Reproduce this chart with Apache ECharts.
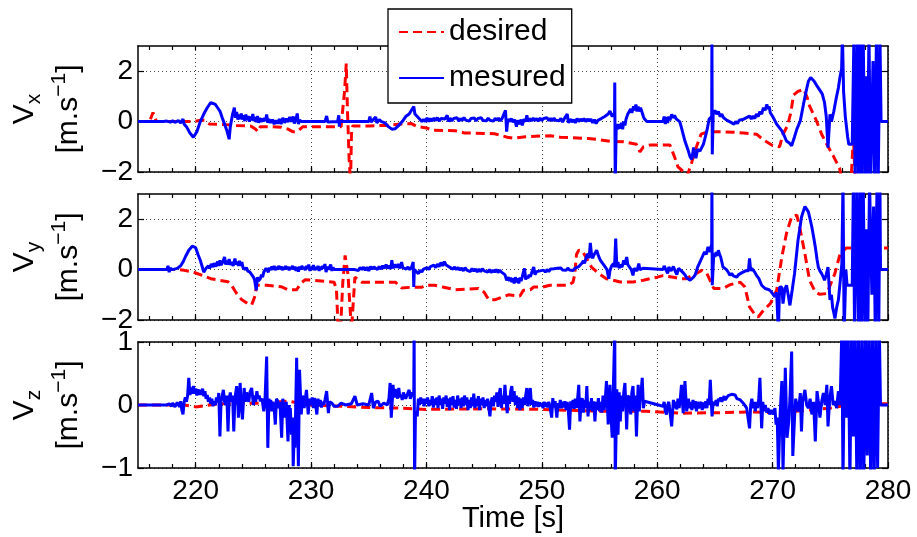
<!DOCTYPE html>
<html>
<head>
<meta charset="utf-8">
<script src="https://cdn.jsdelivr.net/npm/echarts@6/dist/echarts.min.js"></script>
<style>
html,body{margin:0;padding:0;background:#fff;}
#chart{width:917px;height:537px;}
</style>
</head>
<body>
<div id="chart"></div>
<script>
// ---------- DATA ----------
const xMin = 215, xMax = 280;
const majorXTicks = [220, 230, 240, 250, 260, 270, 280];
const evenXTicks = [216, 218, 220, 222, 224, 226, 228, 230, 232, 234, 236, 238, 240, 242, 244, 246, 248, 250,
  252, 254, 256, 258, 260, 262, 264, 266, 268, 270, 272, 274, 276, 278];
const yRanges = [[-2, 3], [-2, 3], [-1, 1]];
const yTicks = [[-2, 0, 2], [-2, 0, 2], [-1, 0, 1]];
const yNames = ['x', 'y', 'z'];
const legendNames = ['desired', 'mesured'];
const xTitle = 'Time [s]';

const vxDesired = [[215,0],[216.0,0],[216.3,0.36],[216.6,0],[219.8,0],[220.4,0.05],[220.8,0.05],[221.2,-0.1],[222.5,-0.12],[223.5,-0.15],[224.8,-0.18],[225.2,-0.3],[225.4,-0.4],[225.6,-0.2],[226.2,-0.2],[227.4,-0.22],[228.0,-0.3],[228.4,-0.4],[228.8,-0.4],[229.3,-0.2],[231,-0.2],[232.6,-0.2],[232.9,1.2],[233.05,2.3],[233.15,0.5],[233.3,-1.5],[233.42,-2.4],[233.5,-0.5],[233.6,-0.17],[235,-0.17],[236.5,-0.15],[237.6,-0.1],[238.7,-0.08],[239.2,-0.2],[240,-0.25],[240.5,-0.34],[242.5,-0.36],[243.3,-0.45],[245.9,-0.48],[247,-0.62],[247.6,-0.66],[248.6,-0.6],[250.7,-0.56],[251.6,-0.62],[254,-0.67],[255,-0.72],[255.9,-0.78],[257.1,-0.8],[258.2,-0.9],[258.5,-1.2],[258.8,-1.0],[259.4,-0.93],[261.1,-0.93],[261.5,-1.4],[261.8,-1.8],[262.3,-2.0],[262.6,-2.15],[263.0,-1.6],[263.4,-1.0],[263.8,-0.5],[264.3,-0.42],[265.1,-0.4],[266.6,-0.42],[267.5,-0.45],[268.6,-0.5],[269.2,-0.72],[270.0,-0.95],[270.6,-1.0],[270.9,-0.5],[271.3,-0.15],[271.6,0.4],[271.8,1.05],[272.2,1.2],[272.7,1.28],[273.0,0.95],[273.2,0.62],[273.8,0.03],[274.25,-0.5],[274.7,-0.9],[275.3,-1.4],[275.8,-1.85],[276.0,-2.3],[276.8,-2.3],[277.0,-0.6],[277.15,-2.3],[277.9,-2.3],[278.1,-1.2],[278.3,-2.3],[280,-2.3]];

const vxMeasured = [[215,0],[217.2,0],[217.5,0.02],[217.8,-0.02],[218.0,0.03],[218.2,-0.03],[218.5,0.04],[218.7,-0.05],[218.9,0.1],[219.0,-0.1],[219.2,-0.2],[219.5,-0.45],[219.8,-0.62],[220.1,-0.4],[220.4,0],[220.7,0.3],[221.0,0.55],[221.3,0.75],[221.5,0.72],[221.7,0.68],[221.9,0.55],[222.1,0.42],[222.3,0.15],[222.5,-0.1],[222.7,-0.35],[222.9,-0.7],[223.0,-0.2],[223.2,0.3],[223.35,0.55],[223.45,0.15],[223.55,0.38],[223.65,0.08],[223.75,0.28],[223.85,0.1],[223.95,0.32],[224.05,0.08],[224.15,0.25],[224.25,0.02],[224.35,0.28],[224.45,0.06],[224.55,0.22],[224.65,0.0],[224.75,0.2],[224.85,0.05],[224.95,0.3],[225.05,0.02],[225.15,0.18],[225.25,-0.02],[225.35,0.22],[225.45,-0.05],[225.55,0.15],[225.65,-0.02],[225.75,0.12],[225.85,0.0],[225.95,0.15],[226.05,0.02],[226.15,0.28],[226.25,-0.05],[226.35,0.1],[226.5,-0.05],[226.65,0.08],[226.8,-0.1],[226.95,0.05],[227.1,-0.08],[227.25,0.1],[227.4,-0.1],[227.55,0.15],[227.7,-0.05],[227.85,0.12],[228.0,-0.02],[228.15,0.18],[228.3,0.0],[228.45,0.2],[228.55,-0.08],[228.7,0.12],[228.8,0.32],[228.9,-0.1],[229.0,0.05],[229.2,0],[231.2,0],[231.35,0.22],[231.45,-0.02],[231.6,0],[232.3,0],[232.4,0.25],[232.45,-0.2],[232.5,0],[235.0,0],[235.1,0.2],[235.2,-0.02],[235.4,0.08],[235.6,0.18],[235.7,-0.05],[235.9,0.08],[236.1,0],[236.4,-0.05],[236.7,-0.2],[237.0,-0.3],[237.3,-0.28],[237.6,-0.15],[237.9,0.0],[238.2,0.2],[238.5,0.3],[238.7,0.45],[238.9,0.6],[239.0,0.3],[239.2,0.2],[239.4,0.1],[239.6,0.0],[239.75,0.08],[239.9,0.0],[240.05,0.15],[240.2,0.0],[240.35,0.12],[240.5,0.02],[240.65,0.14],[240.8,0.04],[240.95,0.16],[241.1,0.02],[241.25,0.12],[241.4,0.05],[241.6,0.1],[241.8,0.25],[241.9,0.0],[242.05,0.14],[242.2,0.03],[242.35,0.12],[242.5,0.05],[242.65,0.15],[242.8,0.02],[242.95,0.12],[243.1,0.04],[243.25,0.16],[243.4,0.06],[243.55,0.13],[243.7,0.02],[243.85,0.12],[244.0,0.05],[244.15,0.14],[244.3,0.03],[244.45,0.12],[244.6,0.06],[244.75,0.15],[244.9,0.04],[245.05,0.11],[245.2,0.03],[245.35,0.14],[245.5,0.05],[245.65,0.12],[245.8,0.02],[245.95,0.13],[246.1,0.05],[246.25,0.14],[246.4,0.03],[246.55,0.12],[246.7,0.06],[246.85,0.45],[246.95,-0.4],[247.05,0.1],[247.2,0.0],[247.35,0.12],[247.5,-0.02],[247.65,0.08],[247.8,-0.2],[247.9,0.05],[248.05,-0.1],[248.2,0.08],[248.3,-0.15],[248.45,0.1],[248.6,0.0],[248.7,0.25],[248.8,0.0],[248.95,0.12],[249.1,0.03],[249.25,0.14],[249.4,0.04],[249.55,0.12],[249.7,0.02],[249.85,0.14],[250.0,0.04],[250.15,0.12],[250.3,0.05],[250.45,0.15],[250.6,0.04],[250.75,0.13],[250.9,0.03],[251.05,0.14],[251.2,0.05],[251.35,0.12],[251.5,0.03],[251.65,0.13],[251.8,-0.02],[251.95,0.12],[252.1,0.05],[252.2,0.3],[252.3,-0.05],[252.45,0.1],[252.6,-0.02],[252.75,0.08],[252.9,-0.05],[253.05,0.12],[253.2,0.0],[253.35,0.1],[253.5,0.02],[253.65,0.12],[253.8,0.0],[253.95,0.1],[254.1,0.02],[254.25,0.1],[254.4,-0.05],[254.55,0.08],[254.7,-0.08],[254.85,0.05],[255.0,0.0],[255.15,0.12],[255.3,0.08],[255.45,0.2],[255.6,0.15],[255.75,0.3],[255.9,0.42],[256.1,0.2],[256.3,0.35],[256.32,1.55],[256.36,-2.5],[256.45,-0.1],[256.6,-0.3],[256.7,-0.1],[256.8,-0.28],[256.9,-0.05],[257.0,-0.3],[257.1,0.0],[257.2,-0.15],[257.3,0.1],[257.45,0.3],[257.6,0.25],[257.7,0.5],[257.8,0.35],[257.95,0.6],[258.05,0.45],[258.15,0.68],[258.25,0.4],[258.35,0.6],[258.45,0.4],[258.55,0.55],[258.65,0.42],[258.8,0.2],[258.9,0.1],[259.1,0],[260.5,0],[260.6,0.2],[260.7,-0.1],[260.8,0.18],[260.9,-0.05],[261.0,0.2],[261.1,0.05],[261.25,0.29],[261.35,0.15],[261.5,0.25],[261.65,0.1],[261.8,0.15],[261.95,0.0],[262.1,-0.24],[262.4,-0.77],[262.7,-1.17],[262.85,-1.4],[263.0,-1.5],[263.15,-1.03],[263.35,-1.45],[263.5,-1.1],[263.7,-1.17],[264.0,-0.9],[264.3,-0.37],[264.5,0.1],[264.72,0.2],[264.74,3.5],[264.77,-1.3],[264.85,0.3],[265.0,0.45],[265.15,0.3],[265.3,0.4],[265.45,0.2],[265.6,0.3],[265.75,0.15],[265.9,0.2],[266.05,0.05],[266.2,0.1],[266.35,-0.02],[266.5,0.05],[266.65,-0.1],[266.8,0.0],[266.95,-0.08],[267.1,0.05],[267.25,-0.02],[267.4,0.08],[267.55,0.02],[267.7,0.15],[267.85,0.08],[268.0,0.22],[268.15,0.1],[268.3,0.22],[268.45,0.12],[268.6,0.3],[268.75,0.2],[268.9,0.4],[269.05,0.3],[269.2,0.55],[269.35,0.45],[269.5,0.68],[269.6,0.5],[269.7,0.6],[269.8,0.35],[269.9,0.3],[270.06,0.16],[270.35,-0.1],[270.6,-0.25],[270.8,-0.37],[271.0,-0.55],[271.2,-0.77],[271.45,-0.85],[271.65,-0.96],[271.9,-0.6],[272.1,-0.3],[272.4,0.03],[272.7,0.75],[272.9,1.2],[273.1,1.6],[273.3,1.75],[273.4,1.8],[273.6,1.6],[273.8,1.45],[273.96,1.34],[274.1,1.4],[274.3,1.1],[274.5,0.75],[274.65,0.2],[274.8,-1.03],[274.97,0.29],[275.1,0.0],[275.3,0.4],[275.5,0.9],[275.7,1.34],[275.85,1.8],[275.98,2.1],[276.05,3.5],[276.15,1.2],[276.3,0.2],[276.5,-0.6],[276.6,-0.9],[276.9,-0.9],[277.05,3.5],[277.15,-2.5],[277.35,3.5],[277.45,-2.5],[277.6,3.5],[277.7,-2.5],[277.85,3.5],[278.0,-2.5],[278.1,1.8],[278.2,-2.5],[278.35,3.5],[278.5,-2.5],[278.7,2.4],[278.85,-2.5],[279.0,3.5],[279.15,-2.5],[279.3,3.5],[279.4,0],[280,0]];

const vyDesired = [[215,0],[218.5,0],[219.0,-0.03],[219.8,-0.1],[220.5,-0.22],[221.3,-0.36],[222.0,-0.42],[222.8,-0.48],[223.1,-0.62],[223.55,-0.95],[224.0,-1.2],[224.5,-1.35],[224.85,-1.4],[225.1,-1.1],[225.3,-0.62],[226.2,-0.62],[227.4,-0.68],[228.0,-0.8],[228.75,-0.8],[229.1,-0.55],[229.5,-0.4],[230.9,-0.45],[232.0,-0.5],[232.2,-0.8],[232.35,-2.4],[232.55,-2.4],[232.75,-0.5],[232.95,0.56],[233.2,-0.2],[233.5,-2.4],[233.65,-2.4],[233.8,-0.3],[234.4,-0.5],[235.5,-0.5],[237.3,-0.5],[237.85,-0.73],[238.7,-0.7],[239.6,-0.7],[239.9,-0.62],[240.7,-0.62],[241.5,-0.7],[242.5,-0.8],[244.5,-0.75],[245.0,-0.9],[245.4,-1.2],[245.9,-1.2],[246.5,-1.1],[247.1,-1.0],[248.1,-1.05],[248.4,-0.82],[249.0,-0.8],[249.3,-0.69],[250.1,-0.69],[250.7,-0.62],[252.3,-0.62],[252.7,-0.5],[252.85,-0.2],[253.0,0.6],[253.2,0.77],[253.5,0.74],[253.9,0.43],[254.3,0.1],[254.9,-0.15],[255.6,-0.36],[256.8,-0.49],[257.9,-0.49],[258.8,-0.42],[260.0,-0.3],[260.5,-0.24],[261.4,-0.3],[262.0,-0.36],[262.5,-0.36],[263.2,-0.2],[263.85,-0.03],[264.3,-0.15],[264.9,-0.75],[265.7,-0.75],[266.3,-0.6],[267.2,-0.5],[267.6,-0.69],[268.0,-1.48],[268.5,-1.81],[268.75,-1.88],[269.2,-1.62],[269.8,-1.35],[270.35,-0.82],[270.8,0.5],[271.2,1.43],[271.65,2.1],[272.1,2.16],[272.4,1.56],[272.8,0.63],[273.2,-0.42],[273.7,-0.89],[274.1,-0.98],[274.7,-0.95],[275.4,-0.15],[275.85,0.63],[276.4,0.86],[280,0.86]];

const vyMeasured = [[215,0],[217.5,0],[217.6,0.15],[217.7,-0.1],[217.8,0.05],[218.0,0],[218.4,0.05],[218.7,0.15],[218.9,0.3],[219.1,0.5],[219.4,0.77],[219.7,0.93],[220.0,0.87],[220.2,0.6],[220.4,0.37],[220.7,-0.1],[220.9,0.05],[221.1,0.15],[221.2,0.05],[221.35,0.22],[221.5,0.1],[221.6,0.25],[221.75,0.12],[221.9,0.32],[222.0,0.15],[222.1,0.37],[222.2,0.18],[222.35,0.3],[222.5,0.5],[222.6,0.2],[222.7,0.35],[222.8,0.2],[222.9,0.42],[223.0,0.18],[223.1,0.3],[223.25,0.15],[223.4,0.44],[223.5,0.2],[223.6,0.32],[223.7,0.15],[223.8,0.35],[223.9,0.15],[224.0,0.3],[224.1,0.08],[224.2,0.15],[224.3,0.0],[224.4,0.08],[224.5,-0.05],[224.6,0.02],[224.7,-0.1],[224.85,-0.16],[225.0,-0.3],[225.1,-0.4],[225.25,-0.82],[225.35,-0.3],[225.45,-0.45],[225.6,-0.36],[225.7,-0.2],[225.8,-0.3],[225.9,-0.1],[226.0,-0.15],[226.1,0.05],[226.2,0.1],[226.3,-0.1],[226.4,0.08],[226.5,-0.02],[226.6,0.12],[226.7,0.0],[226.8,0.15],[226.9,-0.02],[227.0,0.1],[227.1,0.0],[227.2,0.15],[227.3,0.02],[227.4,0.12],[227.5,-0.02],[227.6,0.1],[227.7,0.0],[227.8,0.14],[227.9,0.02],[228.0,0.12],[228.1,-0.03],[228.2,0.1],[228.3,0.02],[228.4,0.15],[228.5,0.0],[228.6,0.12],[228.7,-0.05],[228.8,0.1],[228.9,-0.08],[229.0,0.12],[229.1,0.0],[229.2,0.15],[229.3,0.02],[229.4,0.1],[229.5,-0.02],[229.6,0.15],[229.7,0.02],[229.8,0.2],[229.9,-0.05],[230.0,0.1],[230.1,0.0],[230.2,0.18],[230.3,-0.02],[230.4,0.1],[230.5,0.0],[230.6,0.15],[230.7,-0.05],[230.8,0.12],[230.9,0.0],[231.0,0.15],[231.1,0.05],[231.2,0.22],[231.3,-0.1],[231.4,0.12],[231.5,0.0],[231.6,0.1],[231.7,0.2],[231.8,-0.05],[231.9,0.08],[232.0,0.0],[232.3,0],[233.8,0],[233.95,0.06],[234.1,-0.04],[234.25,0.08],[234.4,0.0],[234.55,0.1],[234.7,-0.03],[234.85,0.1],[235.0,-0.05],[235.15,0.12],[235.3,0.02],[235.45,0.1],[235.6,0.15],[235.75,0.0],[235.9,0.12],[236.05,0.02],[236.2,0.15],[236.35,0.05],[236.5,0.2],[236.65,0.05],[236.8,0.15],[236.9,0.02],[237.0,0.37],[237.1,0.05],[237.25,0.2],[237.4,0.08],[237.55,0.22],[237.7,0.05],[237.85,0.3],[237.95,0.08],[238.1,0.15],[238.25,0.02],[238.4,0.1],[238.55,0.0],[238.7,0.08],[238.85,0.3],[238.9,-0.69],[238.95,0.0],[239.1,-0.05],[239.3,-0.16],[239.45,-0.02],[239.6,-0.1],[239.75,0.02],[239.9,-0.05],[240.05,0.08],[240.2,0.0],[240.35,0.12],[240.5,0.05],[240.65,0.18],[240.8,0.08],[240.95,0.22],[241.1,0.12],[241.25,0.28],[241.4,0.15],[241.55,0.32],[241.7,0.18],[241.85,0.25],[242.0,0.1],[242.15,0.15],[242.3,0.02],[242.45,0.1],[242.6,0.0],[242.75,0.08],[242.9,-0.02],[243.05,0.06],[243.2,-0.05],[243.35,0.08],[243.5,-0.02],[243.65,0.05],[243.8,-0.08],[243.95,0.04],[244.1,-0.06],[244.25,0.03],[244.4,-0.1],[244.55,0.02],[244.7,-0.08],[244.85,0.03],[245.0,-0.05],[245.15,0.02],[245.3,-0.1],[245.45,0.0],[245.6,-0.12],[245.75,-0.02],[245.9,-0.1],[246.05,0.0],[246.2,-0.12],[246.35,-0.02],[246.5,-0.1],[246.65,-0.05],[246.8,-0.2],[246.95,-0.42],[247.1,-0.3],[247.2,-0.45],[247.3,-0.32],[247.4,-0.5],[247.5,-0.35],[247.6,-0.55],[247.7,-0.3],[247.8,-0.5],[247.9,-0.35],[248.0,-0.55],[248.1,-0.32],[248.2,-0.45],[248.3,-0.3],[248.4,-0.1],[248.5,0.05],[248.6,-0.4],[248.7,-0.25],[248.8,-0.35],[248.9,-0.2],[249.0,-0.28],[249.1,-0.15],[249.25,-0.2],[249.3,0.1],[249.4,-0.2],[249.55,-0.08],[249.7,-0.15],[249.85,-0.05],[250.0,-0.12],[250.15,-0.02],[250.3,-0.1],[250.45,0.0],[250.6,-0.08],[250.75,0.02],[250.9,-0.05],[251.05,0.03],[251.2,-0.04],[251.35,0.05],[251.5,-0.02],[251.65,0.06],[251.8,-0.02],[251.95,0.05],[252.1,-0.03],[252.25,0.06],[252.4,-0.02],[252.55,0.05],[252.7,-0.04],[252.85,0.05],[253.0,0.0],[253.2,0.12],[253.45,0.24],[253.6,0.35],[253.7,0.25],[253.85,0.5],[254.0,0.63],[254.1,0.45],[254.2,1.06],[254.3,0.6],[254.4,0.45],[254.5,0.57],[254.6,0.5],[254.75,0.77],[254.9,0.55],[255.0,0.45],[255.1,0.35],[255.2,0.3],[255.35,0.2],[255.5,0.1],[255.65,0.0],[255.8,-0.36],[255.9,-0.05],[256.05,0.15],[256.2,0.24],[256.3,0.1],[256.4,1.23],[256.5,0.1],[256.6,0.3],[256.7,0.05],[256.8,0.2],[256.95,0.1],[257.1,0.37],[257.2,0.2],[257.35,0.5],[257.45,0.2],[257.6,0.1],[257.75,0.0],[257.9,-0.23],[258.0,0.05],[258.1,0.1],[258.25,-0.05],[258.4,0.24],[258.5,0.0],[258.6,-0.05],[258.75,0.05],[258.9,0],[260.5,0],[260.6,0.15],[260.7,0.2],[260.8,-0.05],[260.9,-0.15],[261.0,0.1],[261.1,0.15],[261.2,-0.05],[261.3,-0.1],[261.4,0.12],[261.5,0.1],[261.6,-0.1],[261.7,-0.2],[261.85,0.05],[262.0,0.0],[262.2,-0.1],[262.4,-0.2],[262.55,-0.32],[262.7,-0.25],[262.85,-0.42],[263.0,-0.49],[263.15,-0.3],[263.3,-0.2],[263.5,0.1],[263.7,0.3],[263.9,0.5],[264.1,0.7],[264.25,0.6],[264.4,0.9],[264.5,0.7],[264.6,0.8],[264.72,1.0],[264.74,3.5],[264.77,-0.62],[264.9,0.63],[265.0,0.5],[265.1,0.7],[265.2,0.55],[265.3,0.77],[265.4,0.6],[265.5,0.5],[265.6,0.3],[265.7,0.1],[265.85,0.05],[266.0,0.0],[266.15,-0.1],[266.3,-0.23],[266.45,-0.15],[266.6,-0.25],[266.75,-0.2],[266.9,-0.3],[267.05,-0.2],[267.2,-0.15],[267.35,-0.12],[267.5,-0.09],[267.65,-0.05],[267.8,0.0],[267.9,-0.05],[268.0,0.44],[268.1,-0.05],[268.2,0.05],[268.3,0.0],[268.45,-0.1],[268.6,-0.23],[268.8,-0.35],[269.05,-0.62],[269.2,-0.55],[269.35,-0.75],[269.5,-0.82],[269.7,-0.8],[269.9,-0.89],[270.05,-0.95],[270.2,-1.08],[270.35,-0.9],[270.5,-2.5],[270.6,-0.7],[270.8,-0.69],[270.9,-1.35],[271.05,-0.8],[271.2,-0.62],[271.35,-1.0],[271.5,-1.42],[271.7,-0.8],[271.9,-0.16],[272.05,0.5],[272.2,1.16],[272.35,1.6],[272.5,2.08],[272.65,2.3],[272.8,2.5],[272.95,2.4],[273.1,2.29],[273.25,2.0],[273.4,1.69],[273.55,1.3],[273.7,0.9],[273.85,0.4],[273.96,0.1],[274.1,-0.05],[274.25,-0.16],[274.4,-0.3],[274.5,-0.42],[274.65,-0.2],[274.8,0.1],[274.97,-1.2],[275.1,-1.0],[275.2,-1.5],[275.3,-1.7],[275.4,-1.94],[275.55,-1.5],[275.7,-1.2],[275.85,-0.5],[276.0,0.24],[276.1,3.5],[276.2,-2.5],[276.35,0.0],[276.45,-0.62],[276.9,-0.62],[277.0,3.5],[277.1,-2.5],[277.3,3.5],[277.45,-2.5],[277.6,3.5],[277.7,-2.5],[277.85,3.5],[278.0,-2.5],[278.1,1.6],[278.25,-2.5],[278.4,3.5],[278.6,-1.0],[278.75,2.5],[278.9,-2.5],[279.05,3.5],[279.2,-2.5],[279.3,3.5],[279.35,0],[280,0]];

const vzDesired = [[215,0],[219,0],[220,-0.03],[222,0.02],[226,0.03],[228,0.06],[230,0],[235,-0.04],[238,-0.05],[240,-0.07],[245,-0.06],[250,-0.07],[255,-0.1],[259,-0.1],[262,-0.13],[266,-0.12],[268,-0.11],[270,-0.12],[272,-0.1],[275,-0.05],[277,0.02],[280,0.02]];

const vzMeasured = [[215,0],[217.5,0],[217.7,0.02],[217.9,-0.02],[218.0,0.03],[218.2,-0.03],[218.4,0.04],[218.6,-0.03],[218.7,0.06],[218.8,-0.08],[218.9,-0.15],[219.0,0.05],[219.1,0.12],[219.2,0.05],[219.3,0.15],[219.4,0.43],[219.5,0.16],[219.6,0.28],[219.7,0.18],[219.8,0.3],[219.9,0.18],[220.0,0.26],[220.1,0.15],[220.2,0.25],[220.3,0.16],[220.4,0.24],[220.5,0.16],[220.6,0.26],[220.7,0.14],[220.8,0.22],[220.9,0.1],[221.0,0.16],[221.1,0.05],[221.2,0.12],[221.3,0.02],[221.4,0.1],[221.5,-0.02],[221.6,0.06],[221.7,0.0],[221.8,0.12],[221.9,0.04],[222.0,0.19],[222.1,-0.5],[222.2,0.06],[222.3,0.15],[222.4,0.24],[222.5,0.05],[222.6,0.0],[222.7,0.15],[222.8,-0.42],[222.9,0.1],[223.0,0.2],[223.1,0.05],[223.2,0.15],[223.3,-0.42],[223.4,0.1],[223.55,0.3],[223.65,0.05],[223.7,-0.2],[223.8,0.15],[223.85,0.35],[223.95,0.0],[224.05,-0.23],[224.15,0.1],[224.2,0.27],[224.3,0.05],[224.4,0.2],[224.5,0.14],[224.6,0.05],[224.7,0.2],[224.85,0.27],[224.95,0.1],[225.0,0.0],[225.1,0.15],[225.2,0.05],[225.3,0.22],[225.4,0.1],[225.5,0.15],[225.6,0.06],[225.75,0.1],[225.9,-0.1],[226.0,0.05],[226.15,0.77],[226.25,-0.68],[226.35,0.1],[226.4,-0.05],[226.5,0.08],[226.6,-0.1],[226.7,0.05],[226.8,-0.05],[226.9,-0.31],[227.0,0.1],[227.1,0.06],[227.2,-0.05],[227.3,0.05],[227.45,-0.52],[227.55,0.1],[227.6,0.0],[227.75,-0.2],[227.85,0.05],[228.0,-0.58],[228.1,0.0],[228.15,-0.3],[228.2,-0.05],[228.3,-0.47],[228.4,-0.2],[228.45,-0.97],[228.55,-0.4],[228.6,-0.68],[228.75,0.75],[228.9,-0.97],[229.0,0.56],[229.15,-0.15],[229.25,0.15],[229.3,0.11],[229.4,-0.05],[229.5,0.1],[229.6,0.24],[229.75,-0.15],[229.85,0.1],[230.0,0.0],[230.1,0.12],[230.2,-0.05],[230.3,0.11],[230.4,0.0],[230.5,-0.15],[230.6,0.1],[230.7,-0.02],[230.8,0.08],[230.9,-0.04],[231.0,0.05],[231.1,0.0],[231.2,0.08],[231.35,0.22],[231.5,-0.13],[231.6,0.05],[231.8,0.03],[232.0,-0.02],[232.3,-0.02],[232.6,0.03],[233.0,0.0],[233.5,0.02],[233.8,0.14],[234.0,0.0],[234.5,0.02],[235.0,0.0],[235.25,0.19],[235.4,-0.05],[235.6,0.05],[235.8,0.06],[236.0,-0.02],[236.3,0.03],[236.6,0.0],[236.75,0.1],[236.85,0.35],[236.95,-0.2],[237.05,0.1],[237.1,0.32],[237.2,0.12],[237.3,0.25],[237.4,0.19],[237.5,0.1],[237.6,0.27],[237.7,0.12],[237.8,0.16],[237.9,0.08],[238.0,0.2],[238.1,0.22],[238.2,0.1],[238.3,0.08],[238.4,0.2],[238.5,0.24],[238.6,0.1],[238.7,0.11],[238.8,0.2],[238.9,0.15],[238.93,1.2],[238.97,-1.2],[239.05,-0.1],[239.2,-0.18],[239.3,0.1],[239.4,0.0],[239.5,0.12],[239.6,0.02],[239.7,0.1],[239.8,-0.02],[239.9,0.1],[240.0,0.02],[240.1,0.12],[240.2,-0.02],[240.3,0.08],[240.4,0.0],[240.5,0.14],[240.6,-0.04],[240.7,0.1],[240.8,0.0],[240.9,0.12],[241.0,-0.05],[241.1,0.15],[241.2,0.0],[241.3,0.1],[241.4,-0.06],[241.5,0.12],[241.6,0.02],[241.7,0.15],[241.8,-0.03],[241.9,0.1],[242.0,-0.08],[242.1,0.12],[242.2,0.0],[242.3,0.14],[242.4,-0.04],[242.5,0.08],[242.6,-0.06],[242.7,0.15],[242.8,0.0],[242.9,0.1],[243.0,-0.05],[243.1,0.12],[243.2,-0.02],[243.3,0.15],[243.4,0.0],[243.5,0.12],[243.6,-0.08],[243.7,0.08],[243.8,-0.05],[243.9,0.12],[244.0,-0.02],[244.1,0.18],[244.2,-0.05],[244.3,0.1],[244.4,-0.02],[244.5,0.14],[244.6,-0.08],[244.7,0.1],[244.8,0.0],[244.9,0.12],[245.0,-0.05],[245.1,0.08],[245.2,-0.02],[245.3,0.1],[245.5,-0.18],[245.6,0.05],[245.7,0.12],[245.8,-0.02],[245.9,0.15],[246.0,0.05],[246.1,0.2],[246.2,-0.03],[246.3,0.18],[246.4,0.27],[246.5,-0.05],[246.6,0.15],[246.7,0.02],[246.8,0.32],[246.9,0.05],[247.0,-0.13],[247.1,0.15],[247.2,0.02],[247.3,0.22],[247.4,0.3],[247.5,0.05],[247.6,0.22],[247.7,0.0],[247.8,0.15],[247.9,-0.05],[248.0,0.12],[248.1,-0.08],[248.2,0.1],[248.3,-0.05],[248.4,0.12],[248.5,0.0],[248.6,0.15],[248.7,0.27],[248.8,-0.02],[248.9,0.12],[249.0,0.27],[249.1,0.0],[249.2,0.08],[249.3,-0.04],[249.4,0.06],[249.5,-0.02],[249.6,0.05],[249.7,-0.03],[249.8,0.04],[249.9,-0.02],[250.0,0.03],[250.1,-0.05],[250.2,0.05],[250.3,-0.03],[250.4,0.04],[250.5,-0.04],[250.6,0.05],[250.7,-0.02],[250.85,-0.2],[250.95,0.11],[251.05,-0.04],[251.15,0.06],[251.3,-0.2],[251.4,0.03],[251.5,-0.05],[251.6,0.08],[251.7,-0.05],[251.8,0.05],[251.9,-0.04],[252.0,0.06],[252.1,-0.08],[252.2,0.05],[252.3,-0.1],[252.4,-0.39],[252.5,0.06],[252.6,-0.05],[252.7,0.08],[252.8,-0.06],[252.9,0.1],[253.0,-0.05],[253.1,0.1],[253.2,0.32],[253.3,-0.26],[253.4,0.05],[253.5,0.11],[253.6,-0.12],[253.7,0.08],[253.8,-0.05],[253.9,0.3],[254.0,-0.18],[254.1,0.05],[254.2,-0.08],[254.3,0.11],[254.4,-0.1],[254.5,0.06],[254.6,-0.26],[254.7,0.05],[254.8,-0.08],[254.9,0.11],[255.0,-0.1],[255.1,0.05],[255.2,-0.12],[255.3,0.15],[255.4,-0.08],[255.5,0.1],[255.6,0.38],[255.75,-0.31],[255.85,0.1],[255.9,0.32],[256.0,-0.2],[256.1,-0.52],[256.2,0.3],[256.32,1.2],[256.36,-1.2],[256.45,-0.3],[256.5,0.25],[256.6,-0.47],[256.7,0.2],[256.8,-0.26],[256.9,0.15],[257.0,-0.1],[257.1,0.2],[257.2,0.35],[257.3,-0.1],[257.35,-0.39],[257.45,0.15],[257.6,0.11],[257.7,-0.15],[257.8,0.2],[257.9,0.3],[258.0,-0.1],[258.1,0.15],[258.2,-0.5],[258.3,0.1],[258.35,0.32],[258.45,-0.1],[258.5,0.06],[258.6,0.2],[258.7,0.43],[258.8,-0.05],[258.9,0.06],[260.5,-0.02],[260.6,0.05],[260.7,-0.1],[260.8,-0.15],[260.9,0.0],[261.0,0.05],[261.1,-0.1],[261.25,-0.34],[261.4,0.08],[261.5,-0.05],[261.6,0.05],[261.7,-0.07],[261.8,0.1],[261.9,-0.05],[262.0,0.1],[262.1,0.32],[262.25,-0.13],[262.4,0.38],[262.55,-0.1],[262.7,0.1],[262.8,-0.05],[262.9,0.05],[263.0,-0.08],[263.1,0.08],[263.2,-0.05],[263.3,0.06],[263.4,-0.1],[263.5,0.05],[263.6,-0.05],[263.7,-0.07],[263.8,0.05],[263.9,-0.08],[264.0,0.04],[264.1,-0.05],[264.2,0.06],[264.3,-0.05],[264.4,0.1],[264.5,0.0],[264.6,0.4],[264.7,0.0],[264.75,-0.18],[264.85,0.05],[265.0,0.0],[265.1,0.08],[265.2,-0.02],[265.3,0.1],[265.4,0.06],[265.5,0.12],[265.6,0.05],[265.7,0.1],[265.8,0.14],[265.9,0.08],[266.0,0.11],[266.15,0.15],[266.3,0.13],[266.45,0.17],[266.6,0.14],[266.75,0.16],[266.9,0.1],[267.05,0.12],[267.2,0.08],[267.35,0.1],[267.5,0.02],[267.6,0.03],[267.75,-0.05],[267.9,-0.02],[268.0,-0.37],[268.1,0.0],[268.2,0.1],[268.3,-0.05],[268.4,0.05],[268.5,-0.1],[268.6,0.05],[268.7,-0.05],[268.8,0.1],[268.9,0.43],[269.05,-0.37],[269.15,0.05],[269.25,-0.1],[269.35,0.0],[269.5,-0.12],[269.6,-0.05],[269.75,-0.15],[269.9,-0.08],[270.06,-0.15],[270.2,-0.05],[270.3,-0.31],[270.4,-0.2],[270.5,-1.05],[270.65,-0.15],[270.8,0.38],[270.9,-1.05],[271.0,-0.3],[271.1,0.59],[271.25,-0.52],[271.4,-0.26],[271.5,0.1],[271.65,0.85],[271.75,-0.81],[271.9,-0.2],[272.0,0.1],[272.1,0.0],[272.25,-0.1],[272.4,0.19],[272.5,-0.42],[272.6,0.05],[272.8,0.24],[272.95,0.0],[273.1,-0.05],[273.25,0.1],[273.4,-0.15],[273.55,0.05],[273.7,-0.58],[273.85,0.22],[274.0,0.0],[274.1,-0.2],[274.25,0.05],[274.4,0.19],[274.55,0.0],[274.7,0.32],[274.8,-0.34],[274.95,0.1],[275.1,0.3],[275.25,0.0],[275.4,0.06],[275.55,-0.05],[275.7,0.22],[275.85,0.0],[276.0,1.2],[276.1,-1.2],[276.25,1.2],[276.4,-0.2],[276.55,1.2],[276.7,-1.2],[276.85,1.2],[277.0,-0.5],[277.15,1.2],[277.3,-1.2],[277.45,1.2],[277.6,-1.2],[277.75,1.2],[277.9,-1.2],[278.05,1.2],[278.2,-0.8],[278.35,1.2],[278.5,-1.2],[278.65,1.2],[278.8,-1.2],[278.95,1.2],[279.1,-1.0],[279.25,1.2],[279.35,0],[280,0]];

const desiredSets = [vxDesired, vyDesired, vzDesired];
const measuredSets = [vxMeasured, vyMeasured, vzMeasured];

// ---------- LAYOUT / STYLE ----------
const FONT = '"Liberation Sans", Arial, Helvetica, sans-serif';
const gridTops = [46, 194, 342];
const gridLeft = 138, gridWidth = 750, gridHeight = 126;
const dotted = {type: [1, 3], color: '#444', width: 1};
const black = '#000';

const chart = echarts.init(document.getElementById('chart'), null, {renderer: 'canvas'});

const grids = [], xAxes = [], yAxes = [], series = [];
for (let i = 0; i < 3; i++) {
  grids.push({left: gridLeft, top: gridTops[i], width: gridWidth, height: gridHeight, containLabel: false});
  xAxes.push({
    type: 'value', gridIndex: i, min: xMin, max: xMax, position: 'bottom',
    axisLine: {show: true, onZero: false, lineStyle: {color: black, width: 1.5}},
    axisTick: {show: true, inside: true, length: 6, customValues: majorXTicks, lineStyle: {color: black, width: 1.2}},
    axisLabel: {show: i === 2, customValues: majorXTicks, fontSize: 28, color: black, fontFamily: FONT, margin: 9},
    splitLine: {show: true, lineStyle: dotted},
    name: i === 2 ? xTitle : '',
    nameLocation: 'middle', nameGap: 36, nameMoveOverlap: false,
    nameTextStyle: {fontSize: 29, color: black, fontFamily: FONT}
  });
  xAxes.push({
    type: 'value', gridIndex: i, min: xMin, max: xMax, position: 'bottom',
    axisLine: {show: false, onZero: false},
    axisTick: {show: true, inside: true, length: 4, customValues: evenXTicks, lineStyle: {color: black, width: 1.2}},
    axisLabel: {show: false}, splitLine: {show: false}
  });
  xAxes.push({
    type: 'value', gridIndex: i, min: xMin, max: xMax, position: 'top',
    axisLine: {show: true, onZero: false, lineStyle: {color: black, width: 1.5}},
    axisTick: {show: true, inside: true, length: 4, customValues: evenXTicks, lineStyle: {color: black, width: 1.2}},
    axisLabel: {show: false}, splitLine: {show: false}
  });
  yAxes.push({
    type: 'value', gridIndex: i, min: yRanges[i][0], max: yRanges[i][1], position: 'left',
    axisLine: {show: true, onZero: false, lineStyle: {color: black, width: 1.5}},
    axisTick: {show: true, inside: true, length: 6, customValues: yTicks[i], lineStyle: {color: black, width: 1.2}},
    axisLabel: {show: true, customValues: yTicks[i], fontSize: 28, color: black, fontFamily: FONT, margin: 5,
      formatter: v => String(v).replace('-', '\u2212')},
    splitLine: {show: true, lineStyle: dotted}
  });
  yAxes.push({
    type: 'value', gridIndex: i, min: yRanges[i][0], max: yRanges[i][1], position: 'right',
    axisLine: {show: true, onZero: false, lineStyle: {color: black, width: 1.5}},
    axisTick: {show: true, inside: true, length: 6, customValues: yTicks[i], lineStyle: {color: black, width: 1.2}},
    axisLabel: {show: false}, splitLine: {show: false}
  });
  series.push({
    name: legendNames[0], type: 'line', xAxisIndex: 3 * i, yAxisIndex: 2 * i,
    data: desiredSets[i], symbol: 'none', showSymbol: false, clip: true,
    lineStyle: {color: '#ff0000', width: 3, type: [9, 5]}, itemStyle: {color: '#ff0000'}, z: 2
  });
  series.push({
    name: legendNames[1], type: 'line', xAxisIndex: 3 * i, yAxisIndex: 2 * i,
    data: measuredSets[i], symbol: 'none', showSymbol: false, clip: true,
    lineStyle: {color: '#0000ff', width: 3}, itemStyle: {color: '#0000ff'}, z: 3
  });
}

// y-axis titles built as rotated text groups
const measureCtx = document.createElement('canvas').getContext('2d');
function tw(text, size) { measureCtx.font = size + 'px ' + FONT; return measureCtx.measureText(text).width; }
const BIG = 30, SMALL = 21;
function mid(baseline, size) { return baseline - 0.35 * size; }
const graphics = [];
for (let i = 0; i < 3; i++) {
  const cy = gridTops[i] + gridHeight / 2;
  const wV = tw('V', BIG), wSub = tw(yNames[i], SMALL);
  const l1 = -(wV + wSub) / 2;
  const wA = tw('[m.s', BIG), wSup = tw('\u22121', SMALL), wB = tw(']', BIG);
  const l2 = -(wA + wSup + wB) / 2;
  const b2 = 44;
  const txt = (t, x, y, size) => ({type: 'text', x: x, y: y,
    style: {text: t, fontSize: size, fontFamily: FONT, fill: black, align: 'left', verticalAlign: 'middle'}});
  graphics.push({
    type: 'group', x: 35, y: cy, rotation: Math.PI / 2,
    children: [
      txt('V', l1, mid(0, BIG), BIG),
      txt(yNames[i], l1 + wV, mid(7, SMALL), SMALL),
      txt('[m.s', l2, mid(b2, BIG), BIG),
      txt('\u22121', l2 + wA, mid(b2 - 12, SMALL), SMALL),
      txt(']', l2 + wA + wSup, mid(b2, BIG), BIG)
    ]
  });
}

chart.setOption({
  animation: false,
  backgroundColor: '#fff',
  grid: grids,
  xAxis: xAxes,
  yAxis: yAxes,
  series: series,
  graphic: graphics,
  legend: {
    data: legendNames, orient: 'vertical', left: 388, top: 9,
    itemWidth: 45, itemHeight: 14, itemGap: 16,
    padding: [8, 6, 10, 10],
    backgroundColor: '#fff', borderColor: black, borderWidth: 1.3, borderRadius: 0,
    textStyle: {fontSize: 30, color: black, fontFamily: FONT},
    itemStyle: {opacity: 0}
  }
});
</script>
</body>
</html>
